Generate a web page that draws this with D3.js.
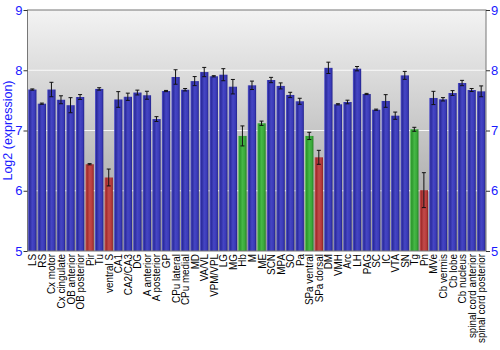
<!DOCTYPE html>
<html>
<head>
<meta charset="utf-8">
<script src="https://cdn.jsdelivr.net/npm/d3@7"></script>
<style>
  html, body { margin: 0; padding: 0; background: #fff; }
  svg { display: block; font-family: "Liberation Sans", Arial, sans-serif; }
</style>
</head>
<body>
<svg id="chart" width="500" height="350"></svg>
<script>
// Brain regions, in display order
const regions = ["LS","RS","Cx motor","Cx cingulate","OB anterior","OB posterior","Pir","Tu","ventral S","CA1","CA2/CA3","DG","A anterior","A posterior","GP","CPu lateral","CPu medial","MD","VA/VL","VPM/VPL","LG","MG","Hb","M","ME","SCN","MPA","SO","Pa","SPa ventral","SPa dorsal","DM","VMH","Arc","LH","PAG","SC","IC","VTA","SN","Tg","Pn","MVe","Cb vermis","Cb lobe","Cb nucleus","spinal cord anterior","spinal cord posterior"];

// Mean log2 expression per region
const meanExpr = [7.68,7.445,7.68,7.51,7.42,7.556,6.44,7.69,6.22,7.515,7.56,7.63,7.585,7.19,7.655,7.888,7.677,7.82,7.97,7.9,7.926,7.727,6.91,7.75,7.12,7.838,7.74,7.59,7.485,6.91,6.555,8.04,7.435,7.473,8.026,7.606,7.345,7.49,7.246,7.915,7.02,6.01,7.54,7.518,7.622,7.788,7.672,7.65];

// Standard error per region
const stdErr = [0.01,0.01,0.12,0.066,0.125,0.04,0.01,0.02,0.14,0.13,0.06,0.04,0.066,0.04,0.01,0.12,0.02,0.075,0.077,0.01,0.1,0.12,0.166,0.07,0.036,0.044,0.05,0.044,0.05,0.06,0.116,0.094,0.01,0.03,0.036,0.01,0.01,0.105,0.06,0.066,0.033,0.29,0.11,0.028,0.04,0.044,0.025,0.09];

// Highlight group for each region: "n" normal, "lo" low, "hi" high
const group = ["n","n","n","n","n","n","lo","n","lo","n","n","n","n","n","n","n","n","n","n","n","n","n","hi","n","hi","n","n","n","n","hi","lo","n","n","n","n","n","n","n","n","n","hi","lo","n","n","n","n","n","n"];

const yTicks = [5, 6, 7, 8, 9];

const svg = d3.select("#chart");
const margin = { left: 27.5, right: 14, top: 10, bottom: 99 };
const W = 500, H = 350;
const x0 = margin.left, x1 = W - margin.right;
const y0 = H - margin.bottom, y1 = margin.top;

const x = d3.scaleBand().domain(regions).range([x0, x1]).paddingInner(0.13).paddingOuter(0.07);
const y = d3.scaleLinear().domain([5, 9]).range([y0, y1]);

const defs = svg.append("defs");

// plot background: light at the top, darker towards the bottom
const bg = defs.append("linearGradient").attr("id", "bg").attr("x1", 0).attr("y1", 0).attr("x2", 0).attr("y2", 1);
bg.append("stop").attr("offset", "0%").attr("stop-color", "#f3f3f3");
bg.append("stop").attr("offset", "100%").attr("stop-color", "#9a9a9a");

// cylinder-like shading for each bar colour
const palettes = {
  n:  ["#5a5ad0", "#2a2a9c", "#4646c4", "#3a3ab8", "#22228a"],
  lo: ["#d06060", "#a02a2a", "#c24a4a", "#b83c3c", "#8a2222"],
  hi: ["#60c860", "#2a962a", "#46b846", "#3aa83a", "#228022"]
};
Object.entries(palettes).forEach(([k, c]) => {
  const g = defs.append("linearGradient").attr("id", "bar-" + k).attr("x1", 0).attr("y1", 0).attr("x2", 1).attr("y2", 0);
  [0, 0.18, 0.5, 0.8, 1].forEach((o, i) => g.append("stop").attr("offset", o).attr("stop-color", c[i]));
});

svg.append("rect").attr("x", x0).attr("y", y1).attr("width", x1 - x0).attr("height", y0 - y1).attr("fill", "url(#bg)");

// grid lines
svg.append("g").selectAll("line").data(yTicks.filter(t => t > 5 && t < 9)).join("line")
  .attr("x1", x0).attr("x2", x1).attr("y1", d => y(d)).attr("y2", d => y(d))
  .attr("stroke", "#ffffff").attr("stroke-opacity", 0.85).attr("stroke-width", 1.2);

// bars
svg.append("g").selectAll("rect").data(regions).join("rect")
  .attr("x", d => x(d))
  .attr("width", x.bandwidth())
  .attr("y", (d, i) => y(meanExpr[i]))
  .attr("height", (d, i) => y(5) - y(meanExpr[i]))
  .attr("fill", (d, i) => "url(#bar-" + group[i] + ")");

// error bars
const eb = svg.append("g").attr("stroke", "#111").attr("stroke-width", 1);
regions.forEach((r, i) => {
  const cx = x(r) + x.bandwidth() / 2;
  const lo = y(meanExpr[i] - stdErr[i]), hi = y(meanExpr[i] + stdErr[i]);
  eb.append("line").attr("x1", cx).attr("x2", cx).attr("y1", lo).attr("y2", hi);
  eb.append("line").attr("x1", cx - 2).attr("x2", cx + 2).attr("y1", lo).attr("y2", lo);
  eb.append("line").attr("x1", cx - 2).attr("x2", cx + 2).attr("y1", hi).attr("y2", hi);
});

// frame
svg.append("rect").attr("x", x0).attr("y", y1).attr("width", x1 - x0).attr("height", y0 - y1)
  .attr("fill", "none").attr("stroke", "#777").attr("stroke-width", 1);

// left and right value axes
const styleAxis = g => {
  g.select(".domain").remove();
  g.selectAll(".tick line").attr("stroke", "#333");
  g.selectAll(".tick text").attr("fill", "#1a1aff").attr("font-size", 13);
};
svg.append("g").attr("transform", `translate(${x0},0)`)
  .call(d3.axisLeft(y).tickValues(yTicks).tickFormat(d3.format("d")).tickSize(4).tickPadding(1))
  .call(styleAxis);
svg.append("g").attr("transform", `translate(${x1},0)`)
  .call(d3.axisRight(y).tickValues(yTicks).tickFormat(d3.format("d")).tickSize(4).tickPadding(1))
  .call(styleAxis);

// region labels below the plot (slightly condensed along the reading direction)
svg.append("g").selectAll("text").data(regions).join("text")
  .attr("transform", d => `translate(${x(d) + x.bandwidth() / 2 + 4},${y0 + 3}) rotate(-90) scale(0.86,1)`)
  .attr("text-anchor", "end")
  .attr("font-size", 11.5)
  .attr("fill", "#000")
  .text(d => d);

// y-axis title
svg.append("text")
  .attr("transform", `translate(12,${(y0 + y1) / 2}) rotate(-90)`)
  .attr("text-anchor", "middle")
  .attr("font-size", 12.5)
  .attr("fill", "#1a1aff")
  .text("Log2 (expression)");
</script>
</body>
</html>
